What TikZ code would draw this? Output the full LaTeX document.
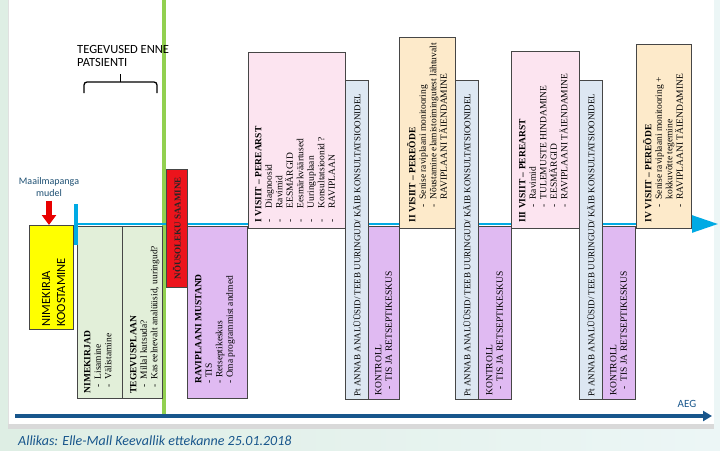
\documentclass[tikz,border=0pt]{standalone}
\usepackage{fontspec}
\setmainfont{Liberation Serif}
\newfontfamily\calib{Carlito}
\usetikzlibrary{arrows.meta,positioning}

\definecolor{bgl}{RGB}{222,238,228}
\definecolor{bgr}{RGB}{236,246,246}
\definecolor{yellowc}{RGB}{255,255,0}
\definecolor{greenc}{RGB}{226,239,217}
\definecolor{redc}{RGB}{236,20,28}
\definecolor{violetc}{RGB}{224,186,242}
\definecolor{pinkc}{RGB}{252,228,240}
\definecolor{bluec}{RGB}{221,231,242}
\definecolor{orangec}{RGB}{253,234,202}
\definecolor{linec}{RGB}{70,70,70}
\definecolor{barc}{RGB}{146,208,80}
\definecolor{timec}{RGB}{0,170,228}
\definecolor{aegc}{RGB}{24,86,140}
\definecolor{labelc}{RGB}{30,80,115}
\definecolor{arrred}{RGB}{232,0,0}

\newcommand{\itmA}[1]{\makebox[14pt][l]{-}#1}
\newcommand{\itm}[1]{\hspace*{15pt}\makebox[8pt][l]{-}#1}
\newcommand{\sitm}[1]{\hspace*{6pt}\makebox[8pt][l]{-}#1}

\begin{document}
\begin{tikzpicture}[x=1pt,y=-1pt,>=Latex,
  box/.style={draw=linec,line width=0.6pt,inner sep=0pt,anchor=north west},
  txt/.style={rotate=90,anchor=north west,align=left,inner sep=0pt,font=\fontsize{9.5}{10.5}\selectfont},
  ctxt/.style={rotate=90,anchor=west,inner sep=0pt,font=\fontsize{9}{10.5}\selectfont},
  lbl/.style={align=center,inner sep=0pt,font=\calib\fontsize{10}{12}\selectfont}]
  \useasboundingbox (0,0) rectangle (720,450);
  \shade[left color=bgl,right color=bgr] (0,0) rectangle (720,450);
  \fill[white] (8,0) rectangle (714,424);
  \fill[black!15] (8,424) rectangle (714,429);
  \draw[black!12] (8,0) -- (8,424);

  \draw[barc,line width=4pt] (164,0) -- (164,418);

  \coordinate (t0) at (76,224);
  \coordinate (t1) at (718,224);
  \draw[timec,line width=2.5pt,-{Triangle[width=17pt,length=26pt]}] (t0) -- (t1);

  \node[box,fill=yellowc,minimum width=44pt,minimum height=104pt] (koost) at (29,225) {};
  \node[box,fill=greenc,minimum width=45pt,minimum height=172pt] (nimek) at (77,226) {};
  \node[box,fill=greenc,minimum width=40pt,minimum height=172pt] (tegev) at (122,226) {};
  \node[box,fill=redc,minimum width=21pt,minimum height=118pt] (nous) at (166,169) {};
  \node[box,fill=violetc,minimum width=60pt,minimum height=172pt] (must) at (187,226) {};
  \node[box,fill=pinkc,minimum width=97pt,minimum height=176pt] (visit1) at (248,52) {};
  \node[box,fill=bluec,minimum width=23pt,minimum height=319pt] (kons1) at (345,80) {};
  \node[box,fill=violetc,minimum width=31pt,minimum height=173pt] (kontr1) at (368,226) {};
  \node[box,fill=orangec,minimum width=56pt,minimum height=191pt] (visit2) at (399,37) {};
  \node[box,fill=bluec,minimum width=23pt,minimum height=319pt] (kons2) at (455,80) {};
  \node[box,fill=violetc,minimum width=33pt,minimum height=173pt] (kontr2) at (478,226) {};
  \node[box,fill=pinkc,minimum width=68pt,minimum height=177pt] (visit3) at (511,51) {};
  \node[box,fill=bluec,minimum width=23pt,minimum height=319pt] (kons3) at (579,80) {};
  \node[box,fill=violetc,minimum width=33pt,minimum height=173pt] (kontr3) at (602,226) {};
  \node[box,fill=orangec,minimum width=55pt,minimum height=184pt] (visit4) at (636,44) {};

  \node[txt,font=\calib\fontsize{12.5}{15}\selectfont] (koosttxt) at ([shift={(13,-3)}]koost.south west) {NIMEKIRJA\\KOOSTAMINE};
  \node[txt] (nimektxt) at ([shift={(7,-5)}]nimek.south west)
    {\textbf{NIMEKIRJAD}\\\sitm{Lisamine}\\\sitm{Välistamine}};
  \node[txt] (tegevtxt) at ([shift={(8,-5)}]tegev.south west)
    {\textbf{TEGEVUSPLAAN}\\\sitm{Millal kutsuda?}\\\sitm{Kas eelnevalt analüüsid, uuringud?}};
  \node[rotate=90,inner sep=0pt,font=\bfseries\fontsize{9}{10.5}\selectfont,text=black!85] (noustxt) at (nous) {NÕUSOLEKU SAAMINE};
  \node[txt] (musttxt) at ([shift={(8,-15)}]must.south west)
    {\textbf{RAVIPLAANI MUSTAND}\\- TIS\\- Retseptikeskus\\- Oma programmist andmed};
  \node[txt] (visit1txt) at ([shift={(7,-6)}]visit1.south west)
    {\textbf{I VISIIT – PEREARST}\\\itmA{Diagnoosid}\\\itmA{Ravimid}\\\itmA{EESMÄRGID}\\\itmA{Eesmärkväärtused}\\\itmA{Uuringuplaan}\\\itmA{Konsultatsioonid ?}\\\itmA{RAVIPLAAN}};
  \node[txt] (visit2txt) at ([shift={(8,-6)}]visit2.south west)
    {\textbf{II VISIIT – PEREÕDE}\\\itm{Senise raviplaani monitooring}\\\itm{Nõustamine elamistoimingutest lähtuvalt}\\\hspace*{23pt}RAVIPLAANI TÄIENDAMINE};
  \node[txt] (visit3txt) at ([shift={(8,-6)}]visit3.south west)
    {\textbf{III VISIIT – PEREARST}\\\itm{Ravimid}\\\itm{TULEMUSTE HINDAMINE}\\\itm{EESMÄRGID}\\\itm{RAVIPLAANI TÄIENDAMINE}};
  \node[txt] (visit4txt) at ([shift={(7,-6)}]visit4.south west)
    {\textbf{IV VISIIT – PEREÕDE}\\\itm{Senise raviplaani monitooring +}\\\hspace*{23pt}kokkuvõtte tegemine\\\itm{RAVIPLAANI TÄIENDAMINE}};
  \node[ctxt] (kons1txt) at ([shift={(0,-3)}]kons1.south) {Pt ANNAB ANALÜÜSID/ TEEB UURINGUD/ KÄIB KONSULTATSIOONIDEL};
  \node[ctxt] (kons2txt) at ([shift={(0,-3)}]kons2.south) {Pt ANNAB ANALÜÜSID/ TEEB UURINGUD/ KÄIB KONSULTATSIOONIDEL};
  \node[ctxt] (kons3txt) at ([shift={(0,-3)}]kons3.south) {Pt ANNAB ANALÜÜSID/ TEEB UURINGUD/ KÄIB KONSULTATSIOONIDEL};
  \node[txt] (kontr1txt) at ([shift={(7,-4)}]kontr1.south west) {KONTROLL\\\sitm{TIS JA RETSEPTIKESKUS}};
  \node[txt] (kontr2txt) at ([shift={(8,-4)}]kontr2.south west) {KONTROLL\\\sitm{TIS JA RETSEPTIKESKUS}};
  \node[txt] (kontr3txt) at ([shift={(8,-4)}]kontr3.south west) {KONTROLL\\\sitm{TIS JA RETSEPTIKESKUS}};

  \draw[timec,line width=4pt] (76,204) -- (76,245);

  \node[lbl,align=left,anchor=north west,font=\calib\fontsize{12.5}{13}\selectfont] (ennepat) at (77,45) {TEGEVUSED ENNE\\PATSIENTI};
  \draw[line width=1.3pt,rounded corners=3pt] (84,93) -- (84,82) -- (157,82) -- (157,93);
  \draw[line width=1.3pt] (120.5,82) -- (120.5,74);

  \node[lbl,text=labelc] (mudel) at (49,187) {Maailmapanga\\mudel};
  \draw[arrred,line width=6pt,-{Triangle[width=14pt,length=10pt]},shorten <=4pt] (mudel.south) -- (mudel.south |- koost.north);

  \coordinate (a0) at (15,416);
  \coordinate (a1) at (712,416);
  \draw[aegc,line width=4pt,-{Triangle[width=10pt,length=9pt]}] (a0) -- (a1);
  \node[lbl,text=aegc,font=\calib\fontsize{11}{12}\selectfont] (aeg) at (687,404) {AEG};

  \node[anchor=west,inner sep=0pt,font=\calib\itshape\fontsize{14}{16}\selectfont,text=aegc] (src) at (18,441) {Allikas: Elle-Mall Keevallik ettekanne 25.01.2018};
\end{tikzpicture}
\end{document}
